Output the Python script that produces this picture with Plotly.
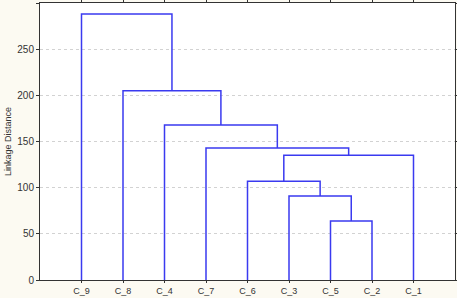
import plotly.graph_objects as go

leaves = ["C_9", "C_8", "C_4", "C_7", "C_6", "C_3", "C_5", "C_2", "C_1"]
merge_a = ["C_5", "C_3", "C_6", "G3", "C_7", "C_4", "C_8", "C_9"]
merge_b = ["C_2", "G1", "G2", "C_1", "G4", "G5", "G6", "G7"]
heights = [64, 91, 107, 135, 143, 168, 205, 288]
y_ticks = [0, 50, 100, 150, 200, 250, 300]

pos = {name: i + 1 for i, name in enumerate(leaves)}
hgt = {name: 0 for name in leaves}

xs, ys = [], []
for i, (a, b, h) in enumerate(zip(merge_a, merge_b, heights)):
    g = "G%d" % (i + 1)
    xa, xb = pos[a], pos[b]
    xs += [xa, xa, xb, xb, None]
    ys += [hgt[a], h, h, hgt[b], None]
    pos[g] = (xa + xb) / 2
    hgt[g] = h

fig = go.Figure()
fig.add_trace(go.Scatter(x=xs, y=ys, mode="lines",
                         line=dict(color="#3a3af0", width=1.5),
                         hoverinfo="skip", showlegend=False, cliponaxis=False))

fig.update_layout(
    width=457, height=298,
    margin=dict(l=40, r=2, t=3, b=18, autoexpand=False),
    paper_bgcolor="#fcfaf2",
    plot_bgcolor="white",
    font=dict(family="Arial, Liberation Sans, sans-serif", size=9, color="#333"),
)
fig.update_xaxes(
    range=[0, 10], automargin=False,
    tickvals=list(range(1, len(leaves) + 1)),
    ticktext=leaves,
    showgrid=False, zeroline=False,
    showline=True, linecolor="#333", linewidth=1, mirror="ticks",
    ticks="outside", ticklen=2, tickcolor="#333",
    tickfont=dict(size=9, color="#333"),
)
fig.update_yaxes(
    range=[0, 300], automargin=False,
    tickvals=y_ticks,
    showgrid=True, gridcolor="#d2d2d2", griddash="dot", gridwidth=1,
    zeroline=False,
    showline=True, linecolor="#333", linewidth=1, mirror="ticks",
    ticks="outside", ticklen=3, tickcolor="#333",
    tickfont=dict(size=10, color="#333"),
    title=dict(text="Linkage Distance", font=dict(size=9, color="#333"), standoff=4),
)

fig.write_html("out.html",
               config={"displayModeBar": False},
               post_script="document.body.style.margin='0';document.body.style.overflow='hidden';")
